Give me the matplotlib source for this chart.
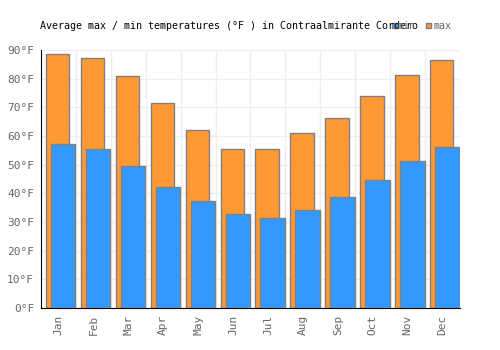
import matplotlib
matplotlib.use("Agg")
import matplotlib.pyplot as plt
import numpy as np

# Monthly averages, degrees F
MONTHS = ['Jan', 'Feb', 'Mar', 'Apr', 'May', 'Jun',
          'Jul', 'Aug', 'Sep', 'Oct', 'Nov', 'Dec']
MAX_T = [88.5, 87.1, 81.0, 71.5, 62.0, 55.5, 55.5, 61.0, 66.3, 74.0, 81.3, 86.5]
MIN_T = [57.1, 55.5, 49.5, 42.2, 37.3, 32.8, 31.4, 34.2, 38.7, 44.6, 51.3, 56.2]
Y_TICKS = [0, 10, 20, 30, 40, 50, 60, 70, 80, 90]

ORANGE = '#ff9933'
BLUE = '#3399ff'
EDGE = '#808080'
TXT = '#666666'

plt.rcParams['font.family'] = 'DejaVu Sans Mono'

fig = plt.figure(figsize=(5, 3.5), dpi=100)
ax = fig.add_axes([0.082, 0.12, 0.838, 0.737])

x = np.arange(len(MONTHS))
ax.bar(x - 0.357, MAX_T, width=0.67, align='edge', color=ORANGE,
       edgecolor=EDGE, linewidth=1, zorder=2, label='max')
ax.bar(x - 0.214, MIN_T, width=0.70, align='edge', color=BLUE,
       edgecolor=EDGE, linewidth=1, zorder=3, label='min')

ax.set_xlim(-0.5, len(MONTHS) - 0.5)
ax.set_ylim(0, 90)
ax.set_yticks(Y_TICKS)
ax.set_yticklabels(['%d°F' % t for t in Y_TICKS], color=TXT, fontsize=8)
ax.set_xticks(x)
ax.set_xticklabels(MONTHS, rotation=90, color=TXT, fontsize=8)
ax.tick_params(length=0, pad=5)

# grid at slot boundaries
ax.set_xticks(np.arange(-0.5, len(MONTHS)), minor=True)
ax.tick_params(which='minor', length=0)
ax.grid(True, which='minor', axis='x', color='#eeeeee', linewidth=1, zorder=0)
ax.grid(True, which='major', axis='y', color='#eeeeee', linewidth=1, zorder=0)
ax.set_axisbelow(True)

for s in ['top', 'right']:
    ax.spines[s].set_visible(False)
ax.spines['left'].set_color('black')
ax.spines['bottom'].set_color('black')

fig.text(0.08, 0.925, 'Average max / min temperatures (°F ) in Contraalmirante Cordero',
         fontsize=7.2, color='black', va='center')

# legend
fig.patches.append(plt.Rectangle((0.783, 0.919), 0.011, 0.016, transform=fig.transFigure,
                                 facecolor=BLUE, edgecolor=EDGE, linewidth=1, zorder=3))
fig.text(0.796, 0.925, 'min', fontsize=7.2, color=TXT, va='center')
fig.patches.append(plt.Rectangle((0.851, 0.919), 0.011, 0.016, transform=fig.transFigure,
                                 facecolor=ORANGE, edgecolor=EDGE, linewidth=1, zorder=3))
fig.text(0.867, 0.925, 'max', fontsize=7.2, color=TXT, va='center')

fig.savefig('out.png', dpi=100)
